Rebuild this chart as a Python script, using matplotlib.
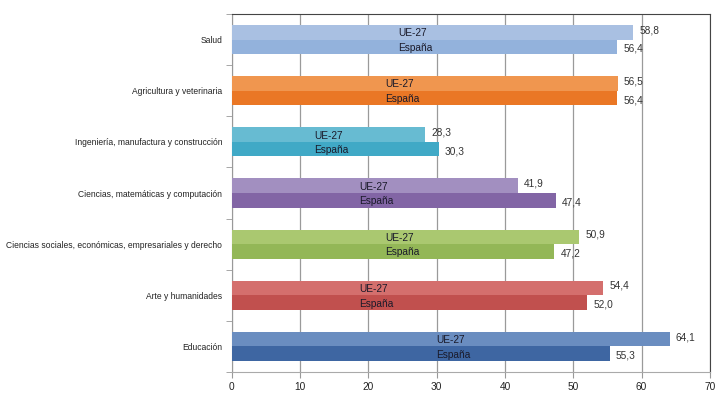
import numpy as np
from matplotlib import pyplot as plt
from matplotlib.ticker import FixedLocator

plt.rcParams['font.family'] = ['Liberation Sans', 'DejaVu Sans']

categories = ['Salud', 'Agricultura y veterinaria', 'Ingeniería, manufactura y construcción',
              'Ciencias, matemáticas y computación',
              'Ciencias sociales, económicas, empresariales y derecho',
              'Arte y humanidades', 'Educación']
ue27 = [58.8, 56.5, 28.3, 41.9, 50.9, 54.4, 64.1]
espana = [56.4, 56.4, 30.3, 47.4, 47.2, 52.0, 55.3]

colorsUE = ['#A9C0E2', '#F0964F', '#67BBD2', '#A28FC0', '#AAC870', '#D46F6D', '#6A8DC0']
colorsES = ['#93B2DC', '#EA7725', '#40A9C6', '#8265A5', '#93B757', '#C1504E', '#3E66A2']
# where the "UE-27 / España" text block starts on each row
labelStart = [24.4, 22.5, 12.0, 18.6, 22.4, 18.6, 29.9]


def fmt(v):
    return f'{v:.1f}'.replace('.', ',')


def main():
    fig = plt.figure(figsize=(7.2, 3.96), dpi=100)
    ax = fig.add_axes([0.322, 0.0606, 0.664, 0.904])

    y = np.arange(len(categories))
    h = 0.285
    ax.barh(y - h / 2, ue27, height=h, color=colorsUE, zorder=3)
    ax.barh(y + h / 2, espana, height=h, color=colorsES, zorder=3)

    fs = 7.3
    for i in range(len(categories)):
        ax.text(ue27[i] + 0.9, y[i] - h / 2 - 0.04, fmt(ue27[i]), va='center', ha='left',
                fontsize=fs, color='#333333', zorder=4)
        ax.text(espana[i] + 0.9, y[i] + h / 2 + 0.04, fmt(espana[i]), va='center', ha='left',
                fontsize=fs, color='#333333', zorder=4)
        ax.text(labelStart[i], y[i] - h / 2 + 0.02, 'UE-27', va='center', ha='left',
                fontsize=fs, color='#1a1a2a', zorder=4)
        ax.text(labelStart[i], y[i] + h / 2 + 0.02, 'España', va='center', ha='left',
                fontsize=fs, color='#1a1a2a', zorder=4)

    ax.set_xlim(0, 70)
    ax.set_ylim(len(categories) - 0.5, -0.5)
    ax.set_xticks(range(0, 71, 10))
    ax.set_yticks(y)
    ax.set_yticklabels(categories)
    ax.yaxis.set_minor_locator(FixedLocator(np.arange(-0.5, len(categories), 1)))
    ax.tick_params(axis='y', which='major', length=0, pad=7, labelsize=6.15, labelcolor='#222222')
    ax.tick_params(axis='y', which='minor', length=4, color='#999999')
    ax.tick_params(axis='x', length=4, color='#999999', labelsize=fs, labelcolor='#222222')

    ax.grid(axis='x', color='#9a9a9a', linewidth=0.9, zorder=0)
    ax.spines['left'].set_color('#999999')
    ax.spines['bottom'].set_color('#aaaaaa')
    ax.spines['top'].set_color('#444444')
    ax.spines['right'].set_color('#444444')

    fig.savefig('out.png', dpi=100)


if __name__ == '__main__':
    main()
